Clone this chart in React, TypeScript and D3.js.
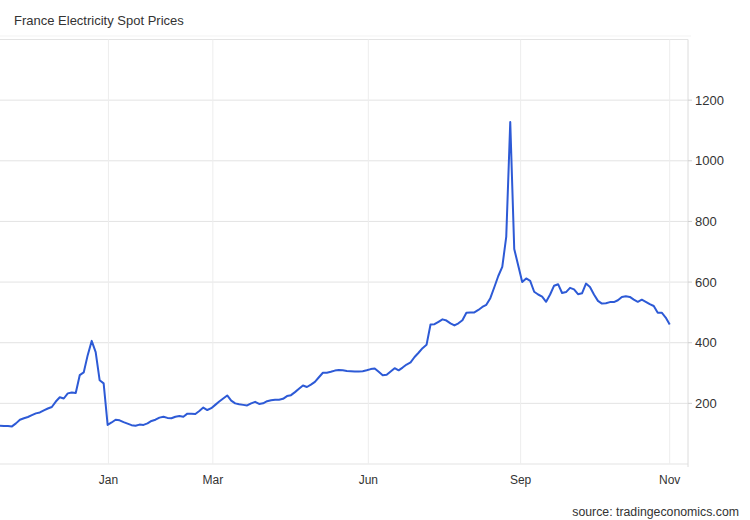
import * as d3 from 'd3';

// France electricity spot price (EUR/MWh), one reading per sample step
const prices: number[] = [
  126, 125, 125, 124, 134, 146, 151, 155, 161, 167,
  170, 177, 183, 188, 206, 220, 216, 233, 236, 234,
  293, 302, 359, 406, 369, 276, 266, 129, 137, 146,
  144, 138, 133, 128, 126, 130, 129, 134, 142, 146,
  153, 156, 152, 151, 156, 158, 156, 166, 166, 165,
  175, 186, 178, 184, 195, 206, 216, 226, 209, 200,
  197, 195, 193, 200, 205, 198, 200, 207, 210, 212,
  212, 215, 224, 227, 237, 248, 259, 254, 262, 271,
  286, 301, 301, 304, 308, 310, 309, 307, 306, 305,
  305, 306, 309, 313, 315, 304, 293, 294, 305, 316,
  309, 318, 328, 335, 353, 367, 382, 393, 460, 461,
  469, 477, 473, 464, 457, 464, 474, 499, 500, 500,
  508, 518, 525, 547, 583, 620, 650, 750, 1128, 709,
  655, 600, 612, 604, 568, 559, 552, 535, 559, 588,
  593, 564, 567, 581, 576, 560, 563, 595, 584, 559,
  538, 529, 530, 534, 534, 540, 551, 553, 551, 542,
  535, 542, 535, 527, 521, 499, 499, 483, 460,
];

// month labels and the sample index where each falls
const monthLabels: string[] = ['Jan', 'Mar', 'Jun', 'Sep', 'Nov'];
const monthIndex: number[] = [27.2, 53.4, 92.4, 130.6, 168];

const yTicks: number[] = [200, 400, 600, 800, 1000, 1200];

const W = 750;
const H = 520;
const plotLeft = 0;
const plotRight = 688;
const plotTop = 39.5;
const plotBottom = 464;
const lastX = 669.7;

const font = '"Liberation Sans", Arial, Helvetica, sans-serif';

export default function App() {
  const x = d3
    .scaleLinear()
    .domain([0, prices.length - 1])
    .range([plotLeft, lastX]);
  const y = d3.scaleLinear().domain([0, 1400]).range([plotBottom, plotTop]);

  const line = d3
    .line<number>()
    .x((_, i) => x(i))
    .y(d => y(d));

  return (
    <svg
      width={W}
      height={H}
      style={{ position: 'absolute', left: 0, top: 0, background: '#fff' }}
      fontFamily={font}
    >
      <text x={14} y={25} fontSize={13} fill="#333">
        France Electricity Spot Prices
      </text>

      {/* faint frame line above plot */}
      <line x1={0} x2={691} y1={36} y2={36} stroke="#f3f3f3" />

      {/* horizontal grid */}
      {[0, ...yTicks, 1400].map(t => (
        <line
          key={'h' + t}
          x1={plotLeft}
          x2={plotRight}
          y1={y(t)}
          y2={y(t)}
          stroke="#e3e3e3"
          strokeWidth={1}
        />
      ))}

      {/* vertical grid */}
      {monthIndex.map((m, i) => (
        <line
          key={'v' + i}
          x1={x(m)}
          x2={x(m)}
          y1={plotTop}
          y2={plotBottom}
          stroke="#ededed"
          strokeWidth={1}
        />
      ))}

      {/* right axis */}
      <line x1={plotRight} x2={plotRight} y1={plotTop} y2={plotBottom + 3} stroke="#dcdcdc" />
      {yTicks.map(t => (
        <g key={'yt' + t}>
          <line x1={plotRight} x2={plotRight + 4} y1={y(t)} y2={y(t)} stroke="#cfcfcf" />
          <text x={695} y={y(t) + 4.6} fontSize={13} fill="#333">
            {t}
          </text>
        </g>
      ))}

      {/* month labels */}
      {monthLabels.map((lab, i) => (
        <text
          key={lab}
          x={x(monthIndex[i])}
          y={484}
          fontSize={12}
          fill="#333"
          textAnchor="middle"
        >
          {lab}
        </text>
      ))}

      <path
        d={line(prices) ?? ''}
        fill="none"
        stroke="#2d5ad6"
        strokeWidth={2}
        strokeLinejoin="round"
      />

      <text x={739} y={516} fontSize={12.3} fill="#333" textAnchor="end">
        source: tradingeconomics.com
      </text>
    </svg>
  );
}
